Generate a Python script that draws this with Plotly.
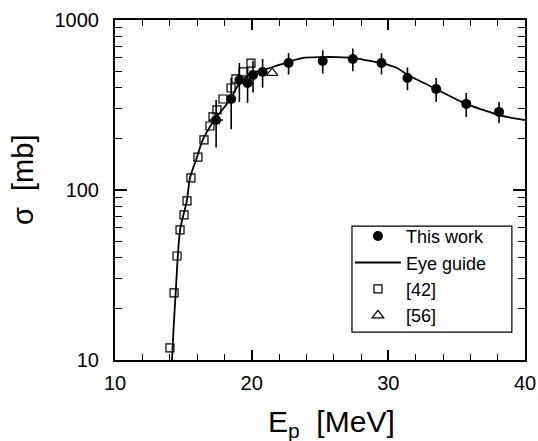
import plotly.graph_objects as go

# Cross sections measured in this work (E_p in MeV, sigma in mb)
work_e = [17.4, 18.5, 19.1, 19.7, 20.1, 20.8, 22.7, 25.2, 27.4, 29.5, 31.4, 33.5, 35.7, 38.1]
work_sigma = [258, 343, 444, 426, 475, 495, 558, 574, 590, 558, 456, 393, 321, 288]
work_err = [80, 115, 115, 100, 100, 95, 80, 90, 90, 80, 70, 63, 52, 41]
work_e_err = [0.5, 0, 0, 0, 0, 0, 0, 0, 0, 0, 0, 0, 0, 0]

# Reference data set [42]
ref42_e = [14.02, 14.32, 14.54, 14.76, 15.05, 15.27, 15.56, 16.07, 16.51, 16.95,
           17.17, 17.46, 17.90, 18.49, 18.85, 19.37, 19.95]
ref42_sigma = [11.8, 24.8, 40.9, 58.2, 71.3, 86.2, 117.7, 156, 197, 238,
               269, 296, 343, 398, 450, 495, 558]

# Reference data set [56]
ref56_e = [21.5]
ref56_sigma = [488]

# Eye guide drawn through the data
guide_e = [14.17, 14.28, 14.44, 14.76, 15.25, 15.49, 16.0, 16.42, 17.32, 18.41,
           19.07, 20.02, 20.83, 21.56, 22.66, 23.76, 25.15, 26.24, 27.41, 28.66,
           29.54, 30.63, 31.44, 33.49, 35.68, 36.93, 38.10, 39.12, 40.0]
guide_sigma = [10, 15, 24.8, 58, 86, 118, 156, 197, 262, 338,
               420, 488, 508, 529, 566, 598, 605, 605, 598, 574,
               558, 522, 475, 393, 321, 296, 276, 265, 258]

FONT = "Liberation Sans, Arial, sans-serif"

fig = go.Figure()

fig.add_trace(go.Scatter(
    x=work_e, y=work_sigma, mode="markers", name="This work",
    marker=dict(symbol="circle", size=10, color="black"),
    error_y=dict(type="data", array=work_err, color="black", thickness=1.6, width=0),
    error_x=dict(type="data", array=work_e_err, color="black", thickness=1.6, width=0),
))
fig.add_trace(go.Scatter(
    x=guide_e, y=guide_sigma, mode="lines", name="Eye guide",
    line=dict(color="black", width=1.8, shape="spline", smoothing=0.8),
))
fig.add_trace(go.Scatter(
    x=ref42_e, y=ref42_sigma, mode="markers", name="[42]",
    marker=dict(symbol="square-open", size=8, color="black", line=dict(width=1.2)),
))
fig.add_trace(go.Scatter(
    x=ref56_e, y=ref56_sigma, mode="markers", name="[56]",
    marker=dict(symbol="triangle-up-open", size=10, color="black", line=dict(width=1.2)),
))

# Frame around the legend
fig.add_shape(type="rect", xref="paper", yref="paper",
              x0=0.578, x1=0.968, y0=0.082, y1=0.394,
              line=dict(color="black", width=1.2), fillcolor="white", layer="below")

# Axis titles
fig.add_annotation(text="E<sub>p</sub>\u00a0\u00a0[MeV]", xref="paper", yref="paper",
                   x=0.529, y=-0.125, xanchor="center", yanchor="top",
                   showarrow=False, font=dict(family=FONT, size=30))
fig.add_annotation(text="\u03c3\u00a0\u00a0[mb]", xref="paper", yref="paper",
                   x=-0.224, y=0.53, xanchor="center", yanchor="middle", textangle=-90,
                   showarrow=False, font=dict(family=FONT, size=29))

fig.update_layout(
    template="none",
    width=538, height=441,
    margin=dict(l=115, r=13, t=20, b=81, autoexpand=False),
    paper_bgcolor="white", plot_bgcolor="white",
    font=dict(family=FONT, color="black", size=18),
    showlegend=True,
    legend=dict(
        x=0.573, y=0.418, xanchor="left", yanchor="top",
        bgcolor="rgba(0,0,0,0)", borderwidth=0,
        font=dict(family=FONT, size=18), itemwidth=46, tracegroupgap=0,
    ),
    xaxis=dict(
        range=[10, 40], tickvals=[10, 20, 30, 40], automargin=False,
        ticks="inside", ticklen=10, tickwidth=1.5, tickcolor="black",
        minor=dict(tickvals=[12, 14, 16, 18, 22, 24, 26, 28, 32, 34, 36, 38],
                   ticks="inside", ticklen=6, tickwidth=1.3, tickcolor="black"),
        showline=True, linewidth=2, linecolor="black", mirror="allticks",
        showgrid=False, zeroline=False,
        tickfont=dict(size=20), ticklabelstandoff=4,
    ),
    yaxis=dict(
        type="log", range=[1, 3], tickvals=[10, 100, 1000], automargin=False,
        ticktext=["10", "100", "1000"],
        ticks="inside", ticklen=12, tickwidth=1.5, tickcolor="black",
        minor=dict(tickvals=[20, 30, 40, 50, 60, 70, 80, 90,
                             200, 300, 400, 500, 600, 700, 800, 900],
                   ticks="inside", ticklen=7, tickwidth=1.3, tickcolor="black"),
        showline=True, linewidth=2, linecolor="black", mirror="allticks",
        showgrid=False, zeroline=False,
        tickfont=dict(size=20), ticklabelstandoff=10,
    ),
)

fig.write_html("out.html")
